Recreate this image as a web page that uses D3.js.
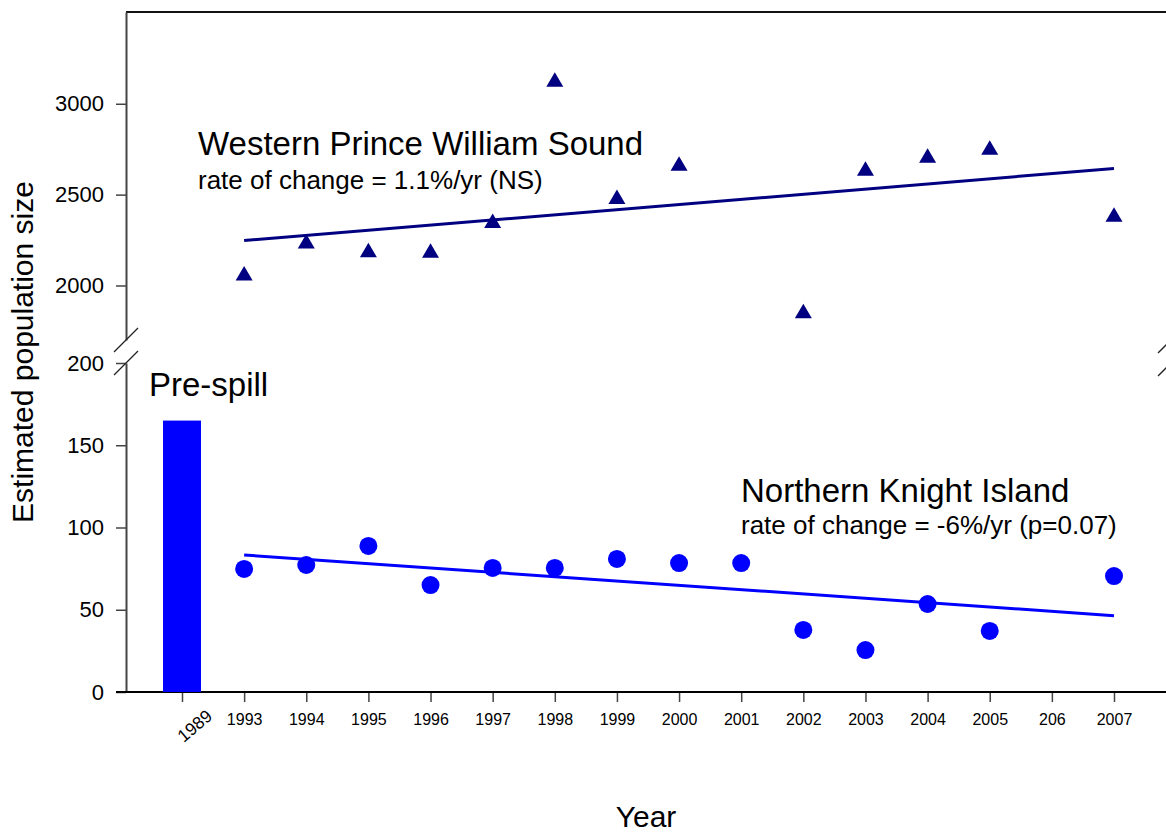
<!DOCTYPE html>
<html>
<head>
<meta charset="utf-8">
<script src="https://cdn.jsdelivr.net/npm/d3@7"></script>
<style>
  html, body { margin: 0; padding: 0; background: #fff; }
  svg { display: block; font-family: "Liberation Sans", Arial, sans-serif; }
</style>
</head>
<body>
<svg id="chart" width="1166" height="834"></svg>
<script>
// ---- data ----
const categories = ["1989","1993","1994","1995","1996","1997","1998","1999","2000","2001","2002","2003","2004","2005","206","2007"];
const preSpill = [{year: "1989", value: 165}];
const wpwsYears  = ["1993","1994","1995","1996","1997","1998","1999","2000","2002","2003","2004","2005","2007"];
const wpwsValues = [2068, 2244, 2195, 2192, 2356, 3134, 2488, 2671, 1859, 2644, 2715, 2759, 2391];
const wpwsTrendYears  = ["1993", "2007"];
const wpwsTrendValues = [2247, 2644];
const nkiYears  = ["1993","1994","1995","1996","1997","1998","1999","2000","2001","2002","2003","2004","2005","2007"];
const nkiValues = [74.8, 77.2, 88.8, 65.0, 75.4, 75.4, 80.9, 78.4, 78.4, 37.7, 25.5, 53.5, 37.1, 70.5];
const nkiTrendYears  = ["1993", "2007"];
const nkiTrendValues = [83.3, 46.4];
const upperTicks = [2000, 2500, 3000];
const lowerTicks = [0, 50, 100, 150, 200];

// ---- layout ----
const svg = d3.select("#chart");
const axisX = 126, plotRight = 1170, topY = 12, upperBottom = 340, lowerTop = 363, bottomY = 692;
const navy = "#000080", blue = "#0000ff";
const font = '"Liberation Sans", Arial, sans-serif';

const x = d3.scalePoint().domain(categories).range([182, 1114]);
const yU = d3.scaleLinear().domain([1700, 3505]).range([upperBottom, topY]);
const yL = d3.scaleLinear().domain([0, 200]).range([bottomY, lowerTop]);

// top frame line
svg.append("line").attr("x1", axisX).attr("x2", 1166).attr("y1", topY).attr("y2", topY)
  .attr("stroke", "#111").attr("stroke-width", 2);

// left axes
function leftAxis(scale, ticks) {
  const g = svg.append("g").attr("transform", `translate(${axisX},0)`)
    .call(d3.axisLeft(scale).tickValues(ticks).tickSize(10).tickPadding(12).tickSizeOuter(0).tickFormat(d3.format("d")));
  g.select(".domain").attr("stroke", "#444").attr("stroke-width", 2);
  g.selectAll(".tick line").attr("stroke", "#444").attr("stroke-width", 1.5);
  g.selectAll(".tick text").attr("font-size", 22).attr("font-family", font).attr("fill", "#000");
  return g;
}
leftAxis(yU, upperTicks);
leftAxis(yL, lowerTicks);

// bottom axis
const gx = svg.append("g").attr("transform", `translate(0,${bottomY})`)
  .call(d3.axisBottom(x).tickSize(10).tickPadding(12).tickSizeOuter(0));
gx.select(".domain").remove();
gx.selectAll(".tick line").attr("stroke", "#444").attr("stroke-width", 1.5);
gx.selectAll(".tick text").attr("font-size", 16).attr("font-family", font).attr("fill", "#000");
gx.selectAll(".tick").filter(d => d === "1989").select("text")
  .attr("text-anchor", "end").attr("dy", null).attr("font-size", 17.5)
  .attr("transform", "translate(31,26) rotate(-40)").attr("y", 0).attr("x", 0);
svg.append("line").attr("x1", 116).attr("x2", 1166).attr("y1", bottomY).attr("y2", bottomY)
  .attr("stroke", "#000").attr("stroke-width", 2);

// axis break marks
function breakMark(cx, cy) {
  svg.append("line").attr("x1", cx - 12).attr("y1", cy + 12).attr("x2", cx + 12).attr("y2", cy - 12)
    .attr("stroke", "#222").attr("stroke-width", 1.3);
}
breakMark(axisX, upperBottom);
breakMark(axisX, lowerTop);
breakMark(plotRight, upperBottom + 1);
breakMark(plotRight, lowerTop + 1);

// pre-spill bar
const barW = 38;
svg.selectAll("rect.bar").data(preSpill).join("rect").attr("class", "bar")
  .attr("x", d => x(d.year) - barW / 2).attr("width", barW)
  .attr("y", d => yL(d.value)).attr("height", d => yL(0) - yL(d.value))
  .attr("fill", blue);

// trend lines
const line = (scale) => d3.line().x(d => x(d[0])).y(d => scale(d[1]));
svg.append("path").datum(d3.zip(wpwsTrendYears, wpwsTrendValues))
  .attr("d", line(yU)).attr("stroke", navy).attr("stroke-width", 3).attr("fill", "none");
svg.append("path").datum(d3.zip(nkiTrendYears, nkiTrendValues))
  .attr("d", line(yL)).attr("stroke", blue).attr("stroke-width", 3).attr("fill", "none");

// triangles (centered on bbox)
const triS = 17, triH = 14.5;
const triPath = `M0,${-triH/2}L${triS/2},${triH/2}L${-triS/2},${triH/2}Z`;
svg.selectAll("path.tri").data(d3.zip(wpwsYears, wpwsValues)).join("path").attr("class", "tri")
  .attr("d", triPath)
  .attr("transform", d => `translate(${x(d[0])},${yU(d[1])})`)
  .attr("fill", navy);

// circles
svg.selectAll("circle.nki").data(d3.zip(nkiYears, nkiValues)).join("circle").attr("class", "nki")
  .attr("cx", d => x(d[0])).attr("cy", d => yL(d[1])).attr("r", 9).attr("fill", blue);

// annotations
function txt(s, xx, yy, size, extra) {
  const t = svg.append("text").attr("x", xx).attr("y", yy).attr("font-size", size)
    .attr("font-family", font).attr("fill", "#000").text(s);
  if (extra) extra(t);
  return t;
}
txt("Western Prince William Sound", 198, 155, 33);
txt("rate of change = 1.1%/yr (NS)", 198, 189, 26);
txt("Northern Knight Island", 741, 502, 33);
txt("rate of change = -6%/yr (p=0.07)", 741, 534, 26);
txt("Pre-spill", 149, 396, 33);

// axis titles
txt("Year", 646, 827, 30, t => t.attr("text-anchor", "middle"));
txt("Estimated population size", 0, 0, 30, t => t.attr("text-anchor", "middle")
  .attr("transform", "translate(33,352) rotate(-90)"));
</script>
</body>
</html>
